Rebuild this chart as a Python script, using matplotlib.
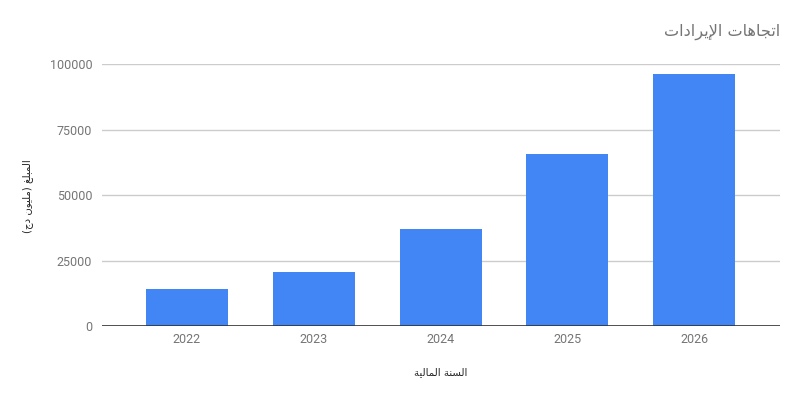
import matplotlib
matplotlib.use('Agg')
import matplotlib.pyplot as plt

years = ['2022', '2023', '2024', '2025', '2026']
amounts = [14100, 20600, 37000, 65600, 96200]
y_ticks = [0, 25000, 50000, 75000, 100000]

title = 'اتجاهات الإيرادات'
y_label = 'المبلغ (مليون دج)'
x_label = 'السنة المالية'

# contextual forms: isolated, final, initial, medial (right-joining letters have no initial/medial)
FORMS = {
    'ا': (0xFE8D, 0xFE8E, None, None),
    'إ': (0xFE87, 0xFE88, None, None),
    'أ': (0xFE83, 0xFE84, None, None),
    'ب': (0xFE8F, 0xFE90, 0xFE91, 0xFE92),
    'ة': (0xFE93, 0xFE94, None, None),
    'ت': (0xFE95, 0xFE96, 0xFE97, 0xFE98),
    'ج': (0xFE9D, 0xFE9E, 0xFE9F, 0xFEA0),
    'د': (0xFEA9, 0xFEAA, None, None),
    'ر': (0xFEAD, 0xFEAE, None, None),
    'س': (0xFEB1, 0xFEB2, 0xFEB3, 0xFEB4),
    'ع': (0xFEC9, 0xFECA, 0xFECB, 0xFECC),
    'غ': (0xFECD, 0xFECE, 0xFECF, 0xFED0),
    'ل': (0xFEDD, 0xFEDE, 0xFEDF, 0xFEE0),
    'م': (0xFEE1, 0xFEE2, 0xFEE3, 0xFEE4),
    'ن': (0xFEE5, 0xFEE6, 0xFEE7, 0xFEE8),
    'ه': (0xFEE9, 0xFEEA, 0xFEEB, 0xFEEC),
    'و': (0xFEED, 0xFEEE, None, None),
    'ي': (0xFEF1, 0xFEF2, 0xFEF3, 0xFEF4),
}
LAM_ALEF = {'ا': (0xFEFB, 0xFEFC, None, None), 'إ': (0xFEF9, 0xFEFA, None, None),
            'أ': (0xFEF7, 0xFEF8, None, None)}
MIRROR = {'(': ')', ')': '('}


def shape_arabic(text):
    """matplotlib has no arabic shaping, so pick presentation forms and reverse for display"""
    tokens = []
    i = 0
    while i < len(text):
        c = text[i]
        if c == 'ل' and i + 1 < len(text) and text[i + 1] in LAM_ALEF:
            tokens.append(LAM_ALEF[text[i + 1]])
            i += 2
        else:
            tokens.append(FORMS.get(c, c))
            i += 1
    out = []
    for k, t in enumerate(tokens):
        if isinstance(t, str):
            out.append(MIRROR.get(t, t))
            continue
        prev = k > 0 and not isinstance(tokens[k - 1], str) and tokens[k - 1][2] is not None
        nxt = t[2] is not None and k + 1 < len(tokens) and not isinstance(tokens[k + 1], str)
        if prev and nxt:
            code = t[3]
        elif prev:
            code = t[1]
        elif nxt:
            code = t[2]
        else:
            code = t[0]
        out.append(chr(code))
    return ''.join(reversed(out))


grey = '#757575'
fig = plt.figure(figsize=(8, 4), dpi=100)
ax = fig.add_axes([0.1275, 0.185, 0.975 - 0.1275, 0.8393 - 0.185])

x = range(len(years))
ax.bar(x, amounts, width=0.647, color='#4285F4', zorder=3)
ax.set_xlim(-0.67, 4.677)
ax.set_ylim(0, 100000)
ax.set_yticks(y_ticks)
ax.set_yticklabels([str(v) for v in y_ticks])
ax.set_xticks(list(x))
ax.set_xticklabels(years)
ax.grid(axis='y', color='#cccccc', linewidth=1, zorder=0)
ax.axhline(0, color='#333333', linewidth=1.2, zorder=4)
for s in ax.spines.values():
    s.set_visible(False)
ax.tick_params(length=0, labelsize=9, labelcolor=grey)
ax.tick_params(axis='y', pad=7)
ax.tick_params(axis='x', pad=5)
for lab in ax.get_xticklabels() + ax.get_yticklabels():
    lab.set_family('Roboto')

fig.text(0.975, 0.921, shape_arabic(title), ha='right', va='center',
         fontsize=11.6, color=grey, family='DejaVu Sans')
fig.text(0.035, 0.51, shape_arabic(y_label), ha='center', va='center', rotation=90,
         fontsize=7.3, color='#222222', family='DejaVu Sans')
fig.text(0.551, 0.07, shape_arabic(x_label), ha='center', va='center',
         fontsize=7.3, color='#222222', family='DejaVu Sans')

fig.savefig('out.png', dpi=100, facecolor='white')
